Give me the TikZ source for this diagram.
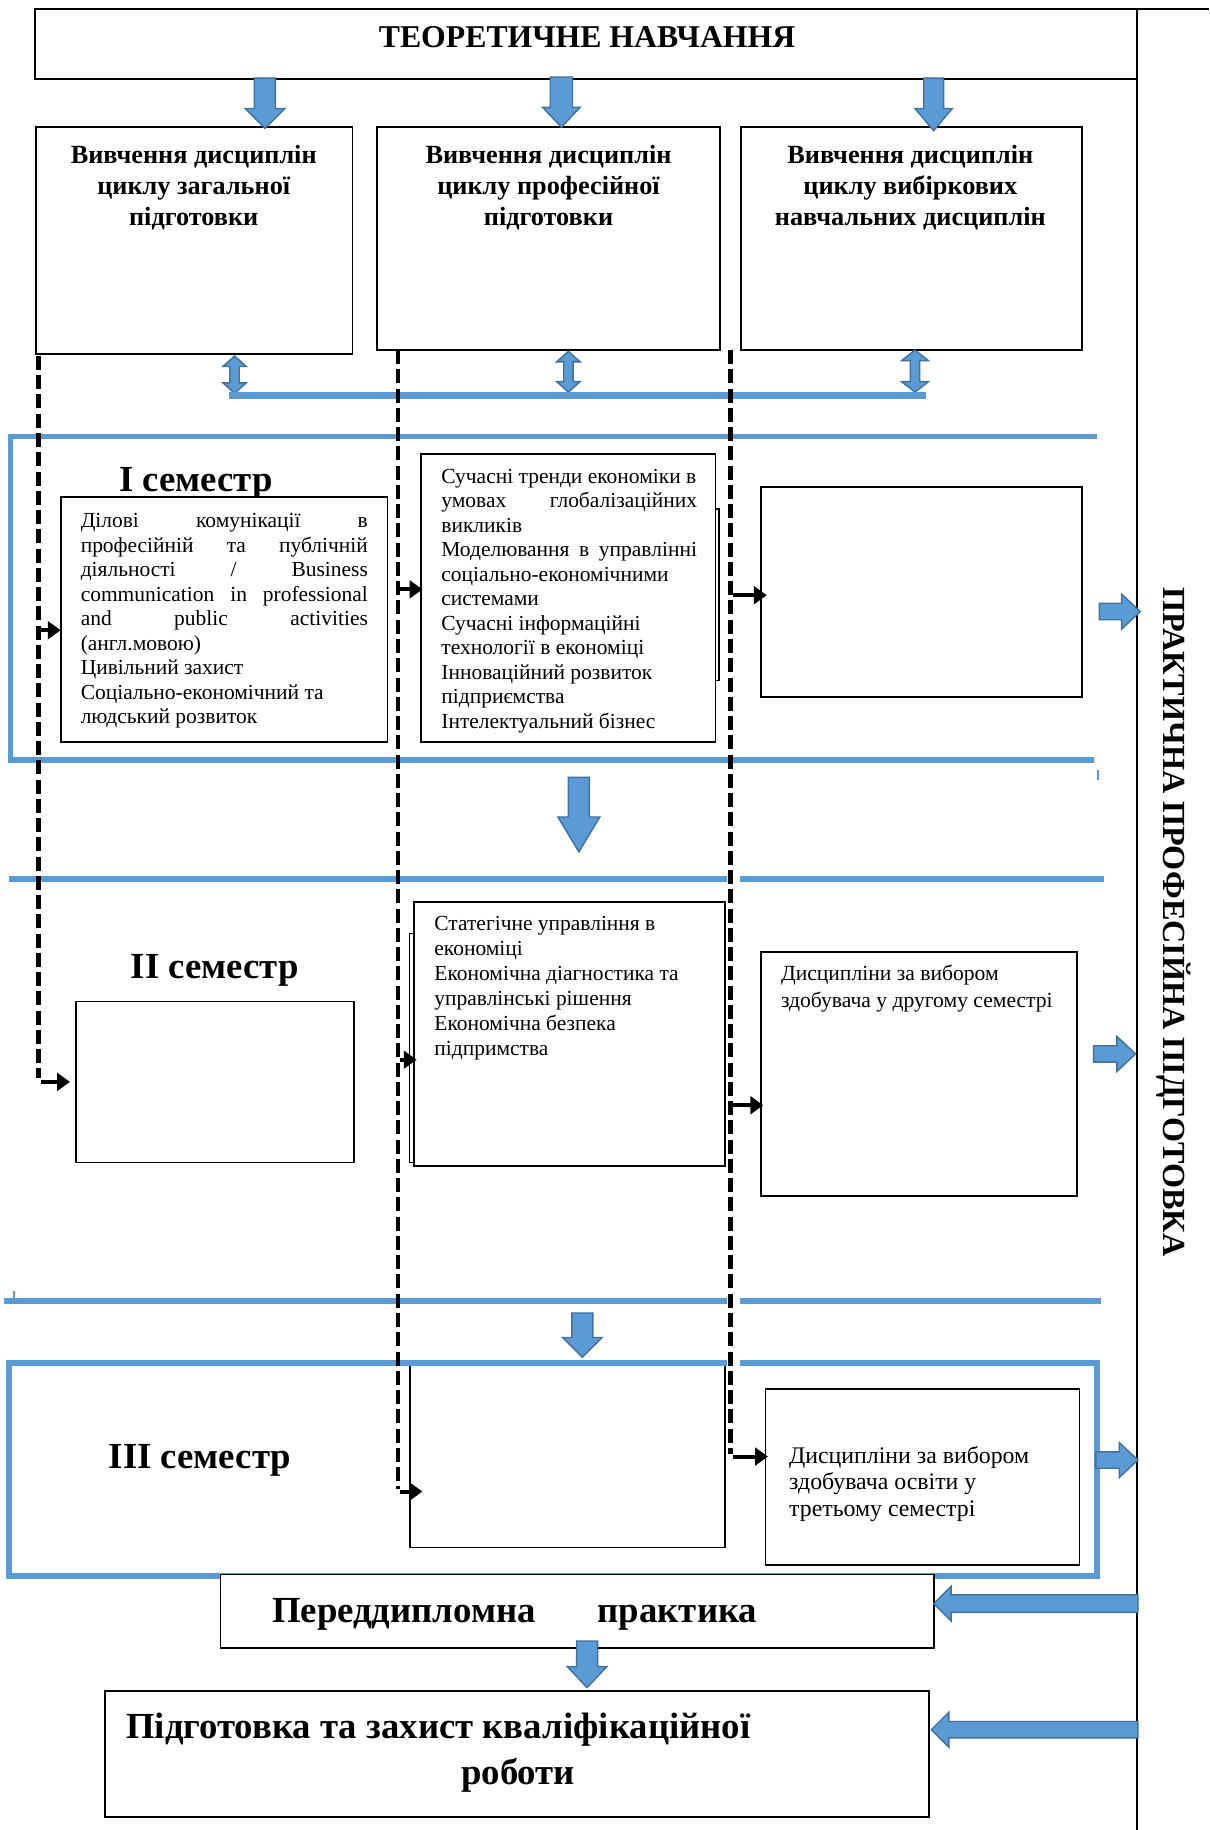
\documentclass[tikz,border=0pt]{standalone}
\usepackage{fontspec}
\setmainfont{Liberation Serif}
\usetikzlibrary{calc,arrows.meta}
\definecolor{bl}{HTML}{5B9BD5}
\definecolor{bld}{HTML}{41719C}
\newcommand\bodyfont{\fontsize{18.4}{21}\selectfont}
\newcommand\hdfont{\bfseries\fontsize{22.5}{26.5}\selectfont}
\newcommand\semfont{\bfseries\fontsize{31.5}{36}\selectfont}
\newcommand\blkdown[5]{\filldraw[blk] let \p1=(#1), \p2=(#2) in (\x1-#3pt,\y1) -- (\x1+#3pt,\y1) -- (\x1+#3pt,\y2+#5pt) -- (\x1+#4pt,\y2+#5pt) -- (\x1,\y2) -- (\x1-#4pt,\y2+#5pt) -- (\x1-#3pt,\y2+#5pt) -- cycle;}
\newcommand\blkud[5]{\filldraw[blk] let \p1=(#1), \p2=(#2) in (\x1,\y1) -- (\x1+#4pt,\y1-#5pt) -- (\x1+#3pt,\y1-#5pt) -- (\x1+#3pt,\y2+#5pt) -- (\x1+#4pt,\y2+#5pt) -- (\x1,\y2) -- (\x1-#4pt,\y2+#5pt) -- (\x1-#3pt,\y2+#5pt) -- (\x1-#3pt,\y1-#5pt) -- (\x1-#4pt,\y1-#5pt) -- cycle;}
\newcommand\blkright[5]{\filldraw[blk] let \p1=(#1), \p2=(#2) in (\x1,\y1+#3pt) -- (\x2-#5pt,\y1+#3pt) -- (\x2-#5pt,\y1+#4pt) -- (\x2,\y1) -- (\x2-#5pt,\y1-#4pt) -- (\x2-#5pt,\y1-#3pt) -- (\x1,\y1-#3pt) -- cycle;}
\newcommand\blkleft[5]{\filldraw[blk] let \p1=(#1), \p2=(#2) in (\x1,\y1+#3pt) -- (\x2+#5pt,\y1+#3pt) -- (\x2+#5pt,\y1+#4pt) -- (\x2,\y1) -- (\x2+#5pt,\y1-#4pt) -- (\x2+#5pt,\y1-#3pt) -- (\x1,\y1-#3pt) -- cycle;}
\tikzset{
 box/.style={draw=black, line width=1.5pt, inner sep=0pt, outer sep=0pt, anchor=north west, fill=white},
 bline/.style={draw=bl, line width=5pt},
 blk/.style={fill=bl, draw=bld, line width=1.2pt, line join=miter},
 dsh/.style={draw=black, line width=4pt, dash pattern=on 12pt off 4.5pt},
 sarr/.style={draw=black, line width=3.5pt, -{Triangle[length=11pt,width=15pt]}},
 txt/.style={inner sep=0pt, anchor=base west},
 ctxt/.style={inner sep=0pt, anchor=base},
}
\begin{document}
\begin{tikzpicture}[x=1pt,y=-1pt]
\useasboundingbox (0,0) rectangle (1036,1568);
\fill[white] (0,0) rectangle (1036,1568);

% title and frame line
\node[box, minimum width=944pt, minimum height=60pt] (title) at (30,8) {};
\node[ctxt, font=\bfseries\fontsize{27.2}{30}\selectfont] (titletxt) at (503,41) {ТЕОРЕТИЧНЕ НАВЧАННЯ};
\coordinate (fr1) at (974,8);
\coordinate (fr2) at (1036,8);
\coordinate (fr3) at (974,1568);
\draw[line width=1.5pt] (fr2) -- (fr1) -- (fr3);
\node[rotate=-90, inner sep=0pt, font=\bfseries\fontsize{27.6}{30}\selectfont] (prak) at (1006,790) {ПРАКТИЧНА ПРОФЕСІЙНА ПІДГОТОВКА};

% header boxes
\node[box, minimum width=271pt, minimum height=194pt] (hA) at (31,109) {};
\node[box, minimum width=294pt, minimum height=191pt] (hB) at (323,109) {};
\node[box, minimum width=292pt, minimum height=191pt] (hC) at (635,109) {};
\node[ctxt] (hAt) at (166,140) {\parbox[t]{265pt}{\centering\hdfont Вивчення дисциплін\\ циклу загальної\\ підготовки}};
\node[ctxt] (hBt) at (470,140) {\parbox[t]{288pt}{\centering\hdfont Вивчення дисциплін\\ циклу професійної\\ підготовки}};
\node[ctxt] (hCt) at (780,140) {\parbox[t]{288pt}{\centering\hdfont Вивчення дисциплін\\ циклу вибіркових\\ навчальних дисциплін}};

% arrows from title
\coordinate (a1s) at (227,67); \coordinate (a1e) at (227,110);
\coordinate (a2s) at (481,66); \coordinate (a2e) at (481,109);
\coordinate (a3s) at (800,67); \coordinate (a3e) at (800,112);
\blkdown{a1s}{a1e}{9}{17}{17}
\blkdown{a2s}{a2e}{9.5}{16}{17}
\blkdown{a3s}{a3e}{8.5}{16}{19}

% double arrows and link line
\coordinate (d1s) at (201,305); \coordinate (d1e) at (201,337);
\coordinate (d2s) at (487,301); \coordinate (d2e) at (487,336);
\coordinate (d3s) at (784,300); \coordinate (d3e) at (784,336);
\blkud{d1s}{d1e}{4}{10}{9}
\blkud{d2s}{d2e}{4}{10}{9}
\blkud{d3s}{d3e}{4}{11.5}{9}
\coordinate (l1) at (196,339); \coordinate (l2) at (793,339);
\draw[draw=bl, line width=6pt] (l1) -- (l2);

% semester I frame
\coordinate (s1a) at (940,374); \coordinate (s1b) at (9,374);
\coordinate (s1c) at (9,651); \coordinate (s1d) at (937,651);
\draw[bline] (s1a) -- (s1b) -- (s1c) -- (s1d);
\coordinate (tk1) at (941,660); \coordinate (tk2) at (941,668);
\draw[draw=bl, line width=1.5pt] (tk1) -- (tk2);
\node[txt, font=\semfont] (sem1) at (102,421) {І семестр};

% semester I boxes
\draw[line width=1.5pt] (600,436) -- (616,436) -- (616,583) -- (600,583);
\node[box, minimum width=280pt, minimum height=210pt] (b11) at (52,426) {};
\node[box, minimum width=252pt, minimum height=247pt] (b12) at (361,389) {};
\node[box, minimum width=275pt, minimum height=180pt] (b13) at (652,417) {};
\node[txt] (b11t) at (69,452) {\parbox[t]{246pt}{\bodyfont Ділові\hfill комунікації\hfill в\\
професійній\hfill та\hfill публічній\\
діяльності\hfill /\hfill Business\\
communication\hfill in\hfill professional\\
and\hfill public\hfill activities\\
(англ.мовою)\\
Цивільний захист\\
Соціально-економічний та\\
людський розвиток}};
\node[txt] (b12t) at (378,414) {\parbox[t]{219pt}{\bodyfont Сучасні тренди економіки в\\
умовах\hfill глобалізаційних\\
викликів\\
Моделювання\hfill в\hfill управлінні\\
соціально-економічними\\
системами\\
Сучасні інформаційні\\
технології в економіці\\
Інноваційний розвиток\\
підприємства\\
Інтелектуальний бізнес}};

% arrow down I -> II
\coordinate (m1s) at (496,666); \coordinate (m1e) at (496,730);
\blkdown{m1s}{m1e}{9}{18}{30}

% semester II lines
\coordinate (s2a) at (8,753); \coordinate (s2b) at (623,753);
\coordinate (s2c) at (634,753); \coordinate (s2d) at (946,753);
\draw[bline] (s2a) -- (s2b); \draw[bline] (s2c) -- (s2d);
\node[txt, font=\semfont] (sem2) at (112,838) {ІІ семестр};
\node[box, minimum width=238pt, minimum height=138pt] (b21) at (65,858) {};
\draw[line width=1.2pt] (360,800) -- (351,800) -- (351,996) -- (360,996);
\node[box, minimum width=266pt, minimum height=226pt] (b22) at (355,773) {};
\node[box, minimum width=271pt, minimum height=209pt] (b23) at (652,816) {};
\node[txt] (b22t) at (372,797) {\parbox[t]{240pt}{\fontsize{18.4}{21.4}\selectfont Статегічне управління в\\
економіці\\
Економічна діагностика та\\
управлінські рішення\\
Економічна безпека\\
підпримства}};
\node[txt] (b23t) at (669,840) {\parbox[t]{250pt}{\fontsize{18.5}{23}\selectfont Дисципліни за вибором\\
здобувача у другому семестрі}};

% lines between II and III
\coordinate (s3a) at (3,1115); \coordinate (s3b) at (623,1115);
\coordinate (s3c) at (634,1115); \coordinate (s3d) at (943,1115);
\draw[bline] (s3a) -- (s3b); \draw[bline] (s3c) -- (s3d);
\coordinate (tk3) at (12,1106); \coordinate (tk4) at (12,1113);
\draw[draw=bl, line width=1.5pt] (tk3) -- (tk4);
\coordinate (m2s) at (499,1125); \coordinate (m2e) at (499,1163);
\blkdown{m2s}{m2e}{9}{17}{17}

% semester III
\node[box, minimum width=270pt, minimum height=157pt] (b32) at (351,1169) {};
\node[box, minimum width=269pt, minimum height=151pt] (b33) at (656,1190) {};
\node[txt] (b33t) at (676,1254) {\parbox[t]{245pt}{\fontsize{20.4}{22.5}\selectfont Дисципліни за вибором\\
здобувача освіти у\\
третьому семестрі}};
\coordinate (s4a) at (623,1168); \coordinate (s4b) at (8,1168);
\coordinate (s4c) at (8,1350); \coordinate (s4d) at (940,1350);
\coordinate (s4e) at (940,1168); \coordinate (s4f) at (634,1168);
\draw[bline] (s4a) -- (s4b) -- (s4c) -- (s4d) -- (s4e) -- (s4f);
\node[txt, font=\semfont] (sem3) at (93,1258) {ІІІ семестр};

% right arrows to practical training
\coordinate (r1s) at (942,524); \coordinate (r1e) at (977,524);
\coordinate (r2s) at (937,903); \coordinate (r2e) at (973,903);
\coordinate (r3s) at (939,1251); \coordinate (r3e) at (975,1251);
\blkright{r1s}{r1e}{7}{15}{16}
\blkright{r2s}{r2e}{7}{15}{16}
\blkright{r3s}{r3e}{7}{15}{16}

% final boxes
\node[box, minimum width=611pt, minimum height=63pt] (pd) at (189,1349) {};
\node[txt, font=\semfont] (pdt1) at (233,1390) {Переддипломна};
\node[txt, font=\semfont] (pdt2) at (512,1390) {практика};
\coordinate (m3s) at (503,1406); \coordinate (m3e) at (503,1446);
\node[box, minimum width=706pt, minimum height=108pt] (kr) at (90,1449) {};
\blkdown{m3s}{m3e}{9}{17}{18}
\node[txt, font=\semfont] (krt1) at (108,1490) {Підготовка та захист кваліфікаційної};
\node[ctxt, font=\semfont] (krt2) at (444,1529) {роботи};
\coordinate (q1s) at (975,1374); \coordinate (q1e) at (800,1374);
\coordinate (q2s) at (975,1482); \coordinate (q2e) at (798,1482);
\blkleft{q1s}{q1e}{7.5}{15}{15}
\blkleft{q2s}{q2e}{7}{15}{15}

% dashed connectors
\coordinate (v1a) at (33,305); \coordinate (v1b) at (33,924);
\coordinate (v2a) at (341,300); \coordinate (v2b) at (341,1276);
\coordinate (v3a) at (626,300); \coordinate (v3b) at (626,1246);
\draw[dsh] (v1a) -- (v1b);
\draw[dsh] (v2a) -- (v2b);
\draw[dsh] (v3a) -- (v3b);
\coordinate (p11) at (35,540);
\coordinate (p12) at (343,505);
\coordinate (p13) at (628,510);
\coordinate (p21) at (35,927);
\coordinate (p22) at (343,908);
\coordinate (p23) at (628,947);
\coordinate (p32) at (343,1278);
\coordinate (p33) at (628,1248);
\draw[sarr] (p11) -- (b11.west |- p11);
\draw[sarr] (p12) -- ([xshift=1pt]b12.west |- p12);
\draw[sarr] (p13) -- ([xshift=5pt]b13.west |- p13);
\draw[sarr] (p21) -- ([xshift=-5pt]b21.west |- p21);
\draw[sarr] (p22) -- ([xshift=2pt]b22.west |- p22);
\draw[sarr] (p23) -- ([xshift=2pt]b23.west |- p23);
\draw[sarr] (p32) -- ([xshift=11pt]b32.west |- p32);
\draw[sarr] (p33) -- ([xshift=2pt]b33.west |- p33);
\end{tikzpicture}
\end{document}
